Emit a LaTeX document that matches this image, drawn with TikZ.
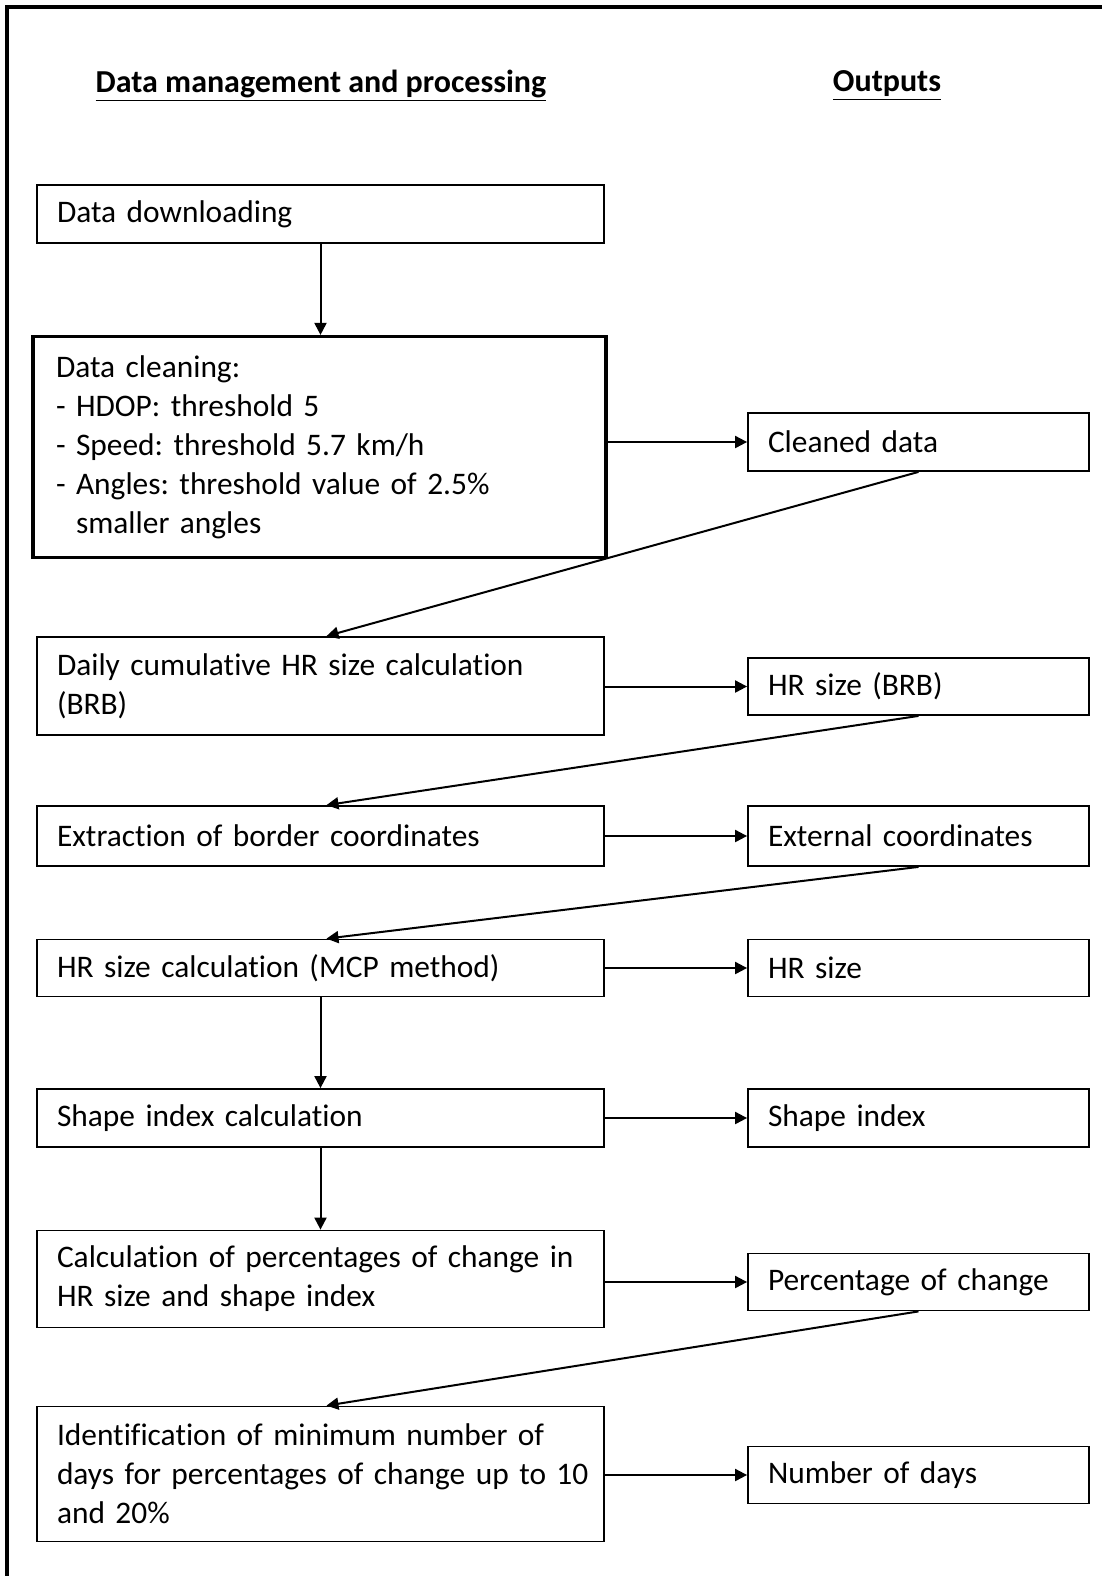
\documentclass[tikz,border=0pt]{standalone}
\usepackage{fontspec}
\setmainfont{Carlito}[Ligatures={NoCommon}]
\usetikzlibrary{arrows.meta,calc}
\begin{document}
\frenchspacing
\begin{tikzpicture}[x=0.5pt,y=-0.5pt,
  txt/.style={font=\fontsize{15.7pt}{19.5pt}\selectfont},
  lbox/.style={draw,line width=0.9pt,txt,minimum width=283.5pt,text width=263.5pt,inner xsep=10pt,inner ysep=0pt,align=left,anchor=center},
  rbox/.style={draw,line width=0.9pt,txt,minimum width=170.5pt,text width=150.5pt,inner xsep=10pt,inner ysep=0pt,align=left,anchor=center},
  arr/.style={line width=1pt,-{Triangle[length=6pt,width=6pt]}},
  hdr/.style={font=\fontsize{16pt}{19.5pt}\selectfont\bfseries}]
\useasboundingbox (0,0) rectangle (1102,1576);
\draw[line width=1.6pt] (7,1580) -- (7,7) -- (1106,7);
\node[hdr] (h1) at (321,86) {\underline{Data management and processing}};
\node[hdr] (h2) at (887,86) {\underline{Outputs}};
% left column
\node[lbox,minimum height=29pt] (dl) at (320.5,214) {Data downloading};
\node[lbox,line width=1.6pt,minimum width=286.5pt,minimum height=110.5pt] (cl) at (319.5,447) {Data cleaning:\\- HDOP: threshold 5\\- Speed: threshold 5.7 km/h\\- Angles: threshold value of 2.5\%\\\hphantom{- }smaller angles};
\node[lbox,minimum height=49pt] (dc) at (320.5,686) {Daily cumulative HR size calculation\\(BRB)};
\node[lbox,minimum height=30pt] (ex) at (320.5,836) {Extraction of border coordinates};
\node[lbox,minimum height=28.5pt] (hc) at (320.5,968) {HR size calculation (MCP method)};
\node[lbox,minimum height=29pt] (sc) at (320.5,1118) {Shape index calculation};
\node[lbox,minimum height=48.5pt] (pc) at (320.5,1279) {Calculation of percentages of change in\\HR size and shape index};
\node[lbox,minimum height=67.5pt] (id) at (320.5,1474) {\mbox{Identification of minimum number of}\\\mbox{days for percentages of change up to 10}\\and 20\%};
% right column
\node[rbox,minimum height=29pt] (o1) at (918.5,442) {Cleaned data};
\node[rbox,minimum height=28.5pt] (o2) at (918.5,686.5) {HR size (BRB)};
\node[rbox,minimum height=30pt] (o3) at (918.5,836) {External coordinates};
\node[rbox,minimum height=28.5pt] (o4) at (918.5,968) {HR size};
\node[rbox,minimum height=29pt] (o5) at (918.5,1118) {Shape index};
\node[rbox,minimum height=28.5pt] (o6) at (918.5,1282) {Percentage of change};
\node[rbox,minimum height=28.5pt] (o7) at (918.5,1475) {Number of days};
% vertical arrows
\draw[arr] (dl.south) -- (dl.south |- cl.north);
\draw[arr] (hc.south) -- (sc.north);
\draw[arr] (sc.south) -- (pc.north);
% horizontal arrows
\draw[arr] (cl.east |- o1.west) -- (o1.west);
\draw[arr] (dc.east |- o2.west) -- (o2.west);
\draw[arr] (ex.east |- o3.west) -- (o3.west);
\draw[arr] (hc.east |- o4.west) -- (o4.west);
\draw[arr] (sc.east |- o5.west) -- (o5.west);
\draw[arr] (pc.east |- o6.west) -- (o6.west);
\draw[arr] (id.east |- o7.west) -- (o7.west);
% diagonal arrows
\draw[arr] (o1.south) -- ([xshift=3pt]dc.north);
\draw[arr] (o2.south) -- ([xshift=3pt]ex.north);
\draw[arr] (o3.south) -- ([xshift=3pt]hc.north);
\draw[arr] (o6.south) -- ([xshift=3pt]id.north);
\end{tikzpicture}
\end{document}
